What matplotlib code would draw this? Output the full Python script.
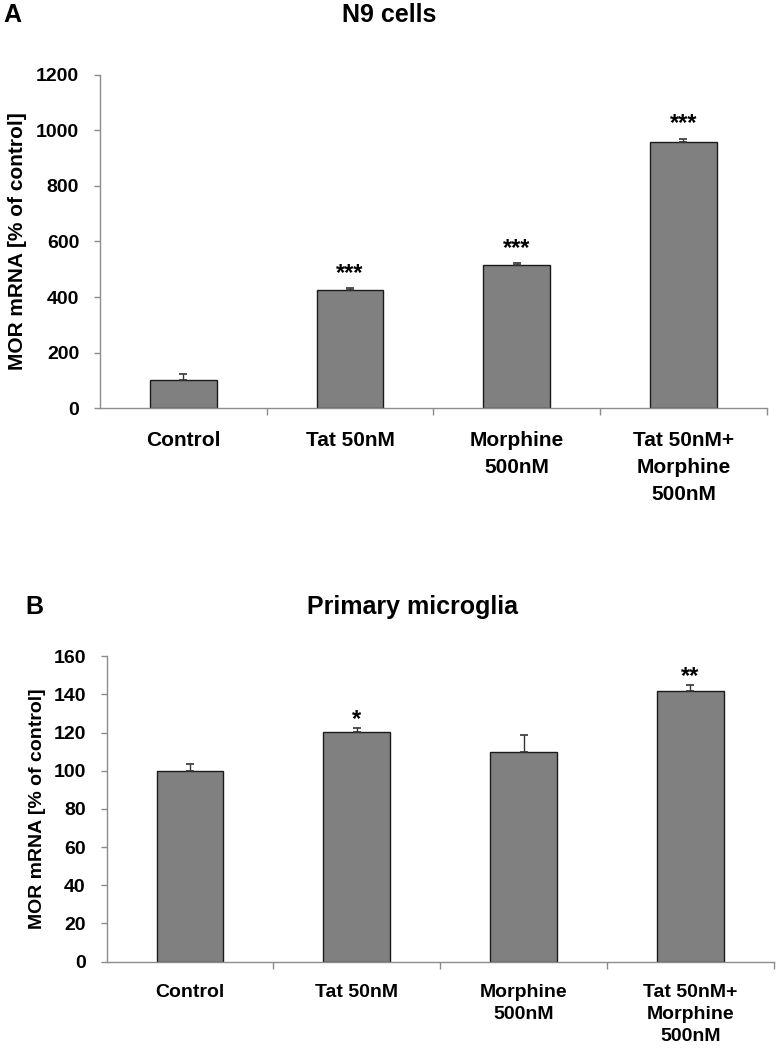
import matplotlib
matplotlib.use("Agg")
import matplotlib.pyplot as plt

plt.rcParams['font.family'] = ['Liberation Sans', 'DejaVu Sans']
plt.rcParams['font.weight'] = 'bold'

# ---------------- data ----------------
groups = ["Control", "Tat 50nM", "Morphine\n500nM", "Tat 50nM+\nMorphine\n500nM"]

n9_mean = [100, 425, 516, 959]
n9_err = [22, 8, 5, 11]
n9_stars = ["", "***", "***", "***"]

micro_mean = [100, 120.3, 109.6, 141.8]
micro_err = [3.7, 2.0, 9.3, 3.3]
micro_stars = ["", "*", "", "**"]

BAR = "#808080"
AXC = "#8c8c8c"


def draw_panel(ax, means, errs, stars, ymax, ystep, star_off, lab_size, lab_space):
    x = list(range(len(groups)))
    ax.bar(x, means, width=0.4, color=BAR, edgecolor="#1a1a1a", linewidth=1.0, zorder=2)
    ax.errorbar(x, means, yerr=[[0] * len(errs), errs], fmt="none",
                ecolor="#333333", elinewidth=1.0, capsize=3, capthick=1.2, zorder=3)
    for xi, m, e, s in zip(x, means, errs, stars):
        if s:
            ax.annotate(s, (xi, m + e), xytext=(0, star_off), textcoords="offset points",
                        ha="center", va="baseline", fontsize=17, fontweight="bold")

    ax.set_xlim(-0.5, len(groups) - 0.5)
    ax.set_ylim(0, ymax)
    ax.set_yticks(range(0, ymax + 1, ystep))

    # category boundary ticks (Excel style) and labels in the middle
    ax.set_xticks([i + 0.5 for i in x])
    ax.set_xticklabels([])
    ax.set_xticks(x, minor=True)
    ax.set_xticklabels(groups, minor=True, fontsize=lab_size, fontweight="bold", linespacing=lab_space)
    ax.tick_params(axis="x", which="major", direction="out", length=5, color=AXC, width=1)
    ax.tick_params(axis="x", which="minor", length=0, pad=16)
    ax.tick_params(axis="y", direction="out", length=4, color=AXC, width=1, pad=11, labelsize=14)

    for side in ["top", "right"]:
        ax.spines[side].set_visible(False)
    for side in ["left", "bottom"]:
        ax.spines[side].set_color(AXC)
        ax.spines[side].set_linewidth(1)


fig = plt.figure(figsize=(7.8, 10.5), dpi=100)

axA = fig.add_axes([100 / 780, 1 - 408.3 / 1050, 666.7 / 780, 333.6 / 1050])
draw_panel(axA, n9_mean, n9_err, n9_stars, 1200, 200, 6, 15, 1.55)
axA.set_ylabel("MOR mRNA [% of control]", fontsize=15, fontweight="bold", va="center")
axA.yaxis.set_label_coords(-0.1237, 0.5)

axB = fig.add_axes([106.7 / 780, 1 - 961.5 / 1050, 667 / 780, 305.2 / 1050])
draw_panel(axB, micro_mean, micro_err, micro_stars, 160, 20, 1.5, 14, 1.4)
axB.set_ylabel("MOR mRNA [% of control]", fontsize=14, fontweight="bold", va="center")
axB.yaxis.set_label_coords(-0.103, 0.5)

fig.text(389 / 780, 1 - 15 / 1050, "N9 cells", ha="center", va="center", fontsize=18, fontweight="bold")
fig.text(12.5 / 780, 1 - 15 / 1050, "A", ha="center", va="center", fontsize=18, fontweight="bold")
fig.text(412.5 / 780, 1 - 607 / 1050, "Primary microglia", ha="center", va="center", fontsize=18, fontweight="bold")
fig.text(34.5 / 780, 1 - 607 / 1050, "B", ha="center", va="center", fontsize=18, fontweight="bold")

fig.savefig("out.png", dpi=100)
